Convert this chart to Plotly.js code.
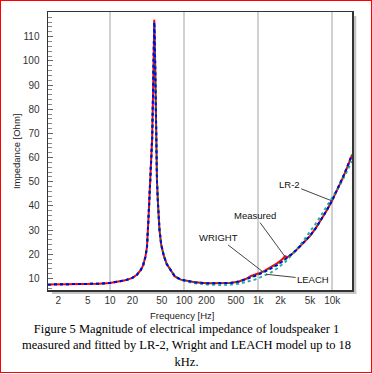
<!DOCTYPE html>
<html>
<head>
<meta charset="utf-8">
<script src="https://cdn.plot.ly/plotly-3.0.1.min.js"></script>
<style>
html,body{margin:0;padding:0;background:#fff;}
#wrap{position:relative;width:372px;height:374px;}
#chart{position:absolute;left:0;top:0;width:372px;height:374px;}
#border{position:absolute;left:0;top:0;width:370px;height:371px;border:1px solid #ff0000;pointer-events:none;}
</style>
</head>
<body>
<div id="wrap"><div id="chart"></div><div id="border"></div></div>
<script>
const freq = [1.45, 2, 3, 5, 7, 10, 13, 16, 20, 23, 26, 28, 30, 31.5, 33, 34.5, 36, 37, 38, 38.8, 39.5, 40.2, 41, 42, 43, 44.5, 46.5, 49, 53, 58, 65, 75, 90, 110, 140, 200, 300, 420, 550, 700, 800, 900, 1000, 1200, 1500, 1800, 2100, 2300, 2500, 2800, 3300, 4000, 5000, 6000, 7000, 8500, 10000, 12000, 14000, 16000, 18500];

const measured = [7.5, 7.5, 7.55, 7.65, 7.8, 8.1, 8.6, 9.2, 10.2, 11.5, 13.5, 15.5, 19, 23, 35, 46, 56, 68, 86, 104, 117, 108, 86, 64, 50, 40, 30, 24, 19.5, 16, 13.5, 10.8, 9.5, 9.0, 8.4, 8.0, 7.9, 8.1, 8.7, 9.9, 11.0, 11.4, 12.0, 13.0, 14.6, 16.2, 17.8, 19.2, 18.8, 19.8, 21.8, 24.3, 27.5, 30.8, 34, 38.3, 42.3, 47.3, 51.8, 56, 61];

const lr2 = [7.5, 7.5, 7.55, 7.65, 7.8, 8.1, 8.6, 9.2, 10.2, 11.5, 13.5, 15.5, 19, 23, 35, 46, 56, 68, 86, 103, 116, 107, 86, 64, 50, 40, 30, 24, 19.5, 16, 13.5, 10.8, 9.5, 9.0, 8.4, 8.0, 7.9, 8.1, 8.7, 9.7, 10.3, 10.9, 11.5, 12.6, 14.1, 15.5, 16.9, 17.8, 18.7, 19.9, 21.8, 24.3, 27.6, 30.8, 34, 38.3, 42.3, 47.4, 52, 56.2, 61.2];

const wright = [7.5, 7.5, 7.55, 7.65, 7.8, 8.1, 8.6, 9.2, 10.2, 11.5, 13.5, 15.5, 19, 23, 35, 46, 56, 68, 86, 102, 115, 106, 86, 64, 50, 40, 30, 24, 19.5, 16, 13.5, 10.8, 9.5, 9.0, 8.4, 8.0, 7.9, 8.1, 8.7, 9.8, 10.4, 11.0, 11.7, 12.8, 14.3, 15.7, 17.0, 17.9, 18.8, 20.0, 21.9, 24.4, 27.6, 30.8, 34, 38.3, 42.3, 47.4, 52, 56.2, 61.2];

const leach = [7.5, 7.5, 7.55, 7.65, 7.8, 8.1, 8.6, 9.2, 10.2, 11.5, 13.5, 15.5, 19, 23, 35, 46, 56, 68, 86, 103, 116, 107, 86, 64, 50, 40, 30, 24, 19.5, 16, 13.5, 10.8, 9.4, 8.6, 8.0, 7.5, 7.3, 7.4, 7.8, 8.5, 9.0, 9.5, 10.0, 11.0, 12.5, 14.1, 15.6, 16.7, 17.8, 19.4, 21.9, 25.2, 29.2, 32.7, 35.8, 39.8, 43.2, 47.3, 51, 54.5, 58.5];

const xTickVals = [2, 5, 10, 20, 50, 100, 200, 500, 1000, 2000, 5000, 10000];
const xTickText = ['2', '5', '10', '20', '50', '100', '200', '500', '1k', '2k', '5k', '10k'];
const xGridVals = [10, 100, 1000, 10000];
const yTickVals = [10, 20, 30, 40, 50, 60, 70, 80, 90, 100, 110];

const labels = [
  {text: 'LR-2', f: 10000, z: 42, ax: -43, ay: -17},
  {text: 'Measured', f: 2300, z: 19, ax: -30, ay: -41},
  {text: 'WRIGHT', f: 1160, z: 12.7, ax: -44, ay: -34},
  {text: 'LEACH', f: 1280, z: 11.7, ax: 47, ay: 5}
];

const caption = 'Figure 5 Magnitude of electrical impedance of loudspeaker 1<br>measured and fitted by LR-2, Wright and LEACH model up to 18<br>kHz.';

const sans = 'Liberation Sans, Arial, sans-serif';

const traces = [
  {x: freq, y: measured, mode: 'lines', name: 'Measured', line: {color: '#ff0000', width: 2}},
  {x: freq, y: leach, mode: 'lines', name: 'LEACH', line: {color: '#30a8a8', width: 2, dash: 'dot'}},
  {x: freq, y: wright, mode: 'lines', name: 'WRIGHT', line: {color: '#009000', width: 2, dash: 'dot'}},
  {x: freq, y: lr2, mode: 'lines', name: 'LR-2', line: {color: '#0000ff', width: 2, dash: 'dot'}}
];

const annotations = labels.map(l => ({
  x: Math.log10(l.f), y: l.z, xref: 'x', yref: 'y', text: l.text,
  showarrow: true, arrowhead: 0, arrowwidth: 1, arrowcolor: '#444',
  ax: l.ax, ay: l.ay, font: {family: sans, size: 9.5, color: '#111'},
  bgcolor: 'rgba(0,0,0,0)'
}));
annotations.push({
  xref: 'paper', yref: 'paper', x: 0.441, y: -0.0935, text: 'Frequency [Hz]',
  showarrow: false, xanchor: 'center', yanchor: 'middle',
  font: {family: sans, size: 9.5, color: '#222'}
});
annotations.push({
  xref: 'paper', yref: 'paper', x: -0.105, y: 0.5, text: 'Impedance [Ohm]',
  showarrow: false, xanchor: 'center', yanchor: 'middle', textangle: -90,
  font: {family: sans, size: 9.5, color: '#222'}
});
annotations.push({
  xref: 'paper', yref: 'paper', x: 0.454, y: -0.198, text: caption,
  showarrow: false, xanchor: 'center', yanchor: 'middle', align: 'center',
  font: {family: 'Liberation Serif, Times New Roman, serif', size: 12.5, color: '#000'}
});

const layout = {
  width: 372, height: 374,
  margin: {l: 48, r: 20, t: 12, b: 84},
  paper_bgcolor: '#ffffff', plot_bgcolor: '#ffffff',
  showlegend: false,
  xaxis: {
    type: 'log', range: [Math.log10(1.45), Math.log10(18500)],
    tickmode: 'array', tickvals: xTickVals, ticktext: xTickText,
    ticks: '', showgrid: false, zeroline: false,
    showline: true, linecolor: '#333', linewidth: 1.5, mirror: true,
    tickfont: {family: sans, size: 10, color: '#333'},
    minor: {tickmode: 'array', tickvals: xGridVals, showgrid: true, gridcolor: '#d0d0d0', gridwidth: 2, ticks: ''}
  },
  yaxis: {
    range: [5.2, 120.2], tickmode: 'array', tickvals: yTickVals,
    ticks: 'inside', ticklen: 5, tickcolor: '#666', tickwidth: 1,
    showgrid: false, zeroline: false,
    showline: true, linecolor: '#333', linewidth: 1.5, mirror: true,
    tickfont: {family: sans, size: 10, color: '#333'},
    ticklabelstandoff: 5,
    minor: {dtick: 2, ticks: 'inside', ticklen: 4, tickcolor: '#888', showgrid: false}
  },
  shapes: [
    {type: 'rect', xref: 'paper', yref: 'paper', x0: 1.003, x1: 1.014, y0: 0.9856, y1: -0.0144, fillcolor: '#c4c4c4', line: {width: 0}, layer: 'below'},
    {type: 'rect', xref: 'paper', yref: 'paper', x0: 0.013, x1: 1.014, y0: -0.003, y1: -0.0144, fillcolor: '#c4c4c4', line: {width: 0}, layer: 'below'}
  ],
  annotations: annotations
};

Plotly.newPlot('chart', traces, layout, {displayModeBar: false, staticPlot: true});
</script>
</body>
</html>
